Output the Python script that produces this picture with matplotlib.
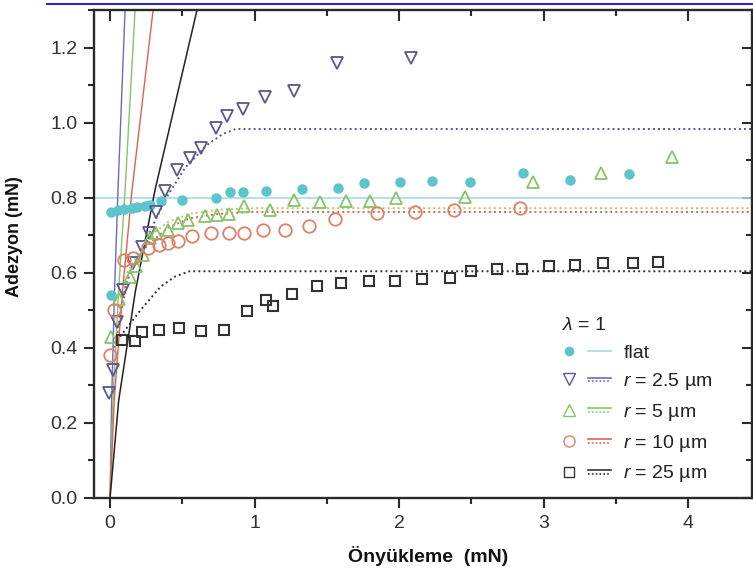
import matplotlib
matplotlib.use('Agg')
import matplotlib.pyplot as plt
from matplotlib.lines import Line2D
from matplotlib.legend_handler import HandlerBase
from matplotlib.ticker import MultipleLocator

plt.rcParams['font.family'] = ['Liberation Sans', 'DejaVu Sans']
plt.rcParams['mathtext.fontset'] = 'custom'
plt.rcParams['mathtext.it'] = 'Liberation Sans:italic'
plt.rcParams['mathtext.rm'] = 'Liberation Sans'

# measured points
flat_x = [0.01, 0.01, 0.055, 0.10, 0.15, 0.19, 0.24, 0.28, 0.35, 0.50, 0.73, 0.83, 0.92, 1.08,
          1.33, 1.58, 1.76, 2.01, 2.23, 2.49, 2.86, 3.18, 3.59]
flat_y = [0.541, 0.763, 0.766, 0.770, 0.773, 0.776, 0.779, 0.780, 0.790, 0.795, 0.800, 0.814,
          0.814, 0.819, 0.823, 0.826, 0.839, 0.841, 0.844, 0.841, 0.866, 0.848, 0.864]

r25_x = [-0.01, 0.02, 0.05, 0.09, 0.16, 0.22, 0.27, 0.32, 0.38, 0.46, 0.55, 0.63, 0.73, 0.81,
         0.92, 1.07, 1.27, 1.57, 2.08]
r25_y = [0.279, 0.341, 0.470, 0.553, 0.626, 0.668, 0.706, 0.763, 0.818, 0.875, 0.906, 0.932,
         0.986, 1.017, 1.035, 1.067, 1.084, 1.160, 1.172]

r5_x = [0.01, 0.06, 0.14, 0.18, 0.23, 0.28, 0.32, 0.40, 0.47, 0.54, 0.66, 0.74, 0.82, 0.93,
        1.11, 1.27, 1.45, 1.63, 1.80, 1.98, 2.46, 2.93, 3.40, 3.89]
r5_y = [0.43, 0.53, 0.59, 0.617, 0.648, 0.692, 0.706, 0.715, 0.733, 0.741, 0.750, 0.755, 0.757,
        0.777, 0.768, 0.795, 0.789, 0.790, 0.790, 0.799, 0.803, 0.841, 0.866, 0.908]

r10_x = [0.0, 0.03, 0.10, 0.16, 0.26, 0.34, 0.40, 0.47, 0.57, 0.70, 0.82, 0.93, 1.06, 1.21,
         1.38, 1.56, 1.85, 2.11, 2.38, 2.84]
r10_y = [0.381, 0.500, 0.635, 0.640, 0.666, 0.675, 0.679, 0.684, 0.699, 0.706, 0.706, 0.706,
         0.715, 0.715, 0.724, 0.743, 0.759, 0.762, 0.766, 0.772]

r250_x = [0.08, 0.17, 0.22, 0.34, 0.48, 0.63, 0.79, 0.95, 1.08, 1.13, 1.26, 1.43, 1.60, 1.79,
          1.97, 2.16, 2.35, 2.50, 2.68, 2.85, 3.04, 3.22, 3.41, 3.62, 3.79]
r250_y = [0.421, 0.417, 0.441, 0.448, 0.452, 0.444, 0.448, 0.497, 0.528, 0.512, 0.543, 0.564,
          0.572, 0.577, 0.577, 0.583, 0.586, 0.606, 0.610, 0.610, 0.617, 0.621, 0.626, 0.626,
          0.630]

# model curves: steep (solid) lines from origin
steep_y = [0, 0.26, 0.55, 0.82, 1.30, 1.40]
steep25_x = [0, 0.011, 0.031, 0.055, 0.104, 0.114]
steep5_x = [0, 0.020, 0.059, 0.104, 0.173, 0.190]
steep10_x = [0, 0.029, 0.086, 0.152, 0.298, 0.330]
steep250_x = [0, 0.060, 0.175, 0.311, 0.602, 0.660]

# model curves: saturating (dotted) lines
dot25_x = [0.03, 0.12, 0.25, 0.39, 0.52, 0.67, 0.78, 0.87, 4.6]
dot25_y = [0.40, 0.58, 0.69, 0.80, 0.88, 0.94, 0.97, 0.983, 0.983]
dot5_x = [0.03, 0.12, 0.25, 0.40, 0.55, 0.75, 1.0, 4.6]
dot5_y = [0.40, 0.60, 0.69, 0.735, 0.757, 0.768, 0.772, 0.772]
dot10_x = [0.03, 0.12, 0.25, 0.40, 0.55, 0.75, 1.0, 4.6]
dot10_y = [0.40, 0.59, 0.67, 0.72, 0.745, 0.757, 0.762, 0.762]
dot250_x = [0.07, 0.21, 0.35, 0.45, 0.55, 4.6]
dot250_y = [0.43, 0.50, 0.563, 0.59, 0.604, 0.604]
flat_level = 0.80

c_flat = '#5cc4cc'
c_flat_line = '#a6dce1'
c_25 = '#58588e'
c_25_line = '#6a6ac8'
c_5 = '#86c46a'
c_10 = '#e0806a'
c_10_line = '#e06050'
c_250 = '#333333'

fig = plt.figure(figsize=(7.53, 5.75), dpi=100)
ax = fig.add_axes([94 / 753, 77 / 575, 658 / 753, 488 / 575])

dots = (0, (1, 1.6))
ax.plot([-0.2, 4.6], [flat_level, flat_level], color=c_flat_line, lw=1.2)
ax.plot(dot25_x, dot25_y, color=c_25, lw=1.4, ls=dots)
ax.plot(dot5_x, dot5_y, color='#b8c860', lw=1.4, ls=dots)
ax.plot(dot10_x, dot10_y, color=c_10_line, lw=1.4, ls=dots)
ax.plot(dot250_x, dot250_y, color=c_250, lw=1.4, ls=dots)

ax.plot(steep25_x, steep_y, color=c_25_line, lw=1.0)
ax.plot(steep5_x, steep_y, color=c_5, lw=1.0)
ax.plot(steep10_x, steep_y, color=c_10_line, lw=1.0)
ax.plot(steep250_x, steep_y, color='#222222', lw=1.1)

ax.plot(flat_x, flat_y, 'o', color=c_flat, ms=6.5, mec=c_flat)
ax.plot(r25_x, r25_y, 'v', mfc='none', mec=c_25, ms=9, mew=1.3)
ax.plot(r5_x, r5_y, '^', mfc='none', mec=c_5, ms=9, mew=1.3)
ax.plot(r10_x, r10_y, 'o', mfc='none', mec=c_10, ms=9, mew=1.3)
ax.plot(r250_x, r250_y, 's', mfc='none', mec=c_250, ms=7.5, mew=1.5)

ax.set_xlim(-0.111, 4.443)
ax.set_ylim(0, 1.30)
ax.xaxis.set_major_locator(MultipleLocator(1))
ax.xaxis.set_minor_locator(MultipleLocator(0.5))
ax.yaxis.set_major_locator(MultipleLocator(0.2))
ax.yaxis.set_minor_locator(MultipleLocator(0.1))
ax.yaxis.set_major_formatter(matplotlib.ticker.FormatStrFormatter('%.1f'))

for s in ax.spines.values():
    s.set_linewidth(1.7)
    s.set_color('#2a2a2a')
ax.tick_params(which='both', direction='out', width=1.5, color='#2a2a2a',
               labelsize=14, labelcolor='#333333')
ax.tick_params(which='major', length=7, pad=5)
ax.tick_params(which='minor', length=4)

top = ax.secondary_xaxis('top')
top.xaxis.set_major_locator(MultipleLocator(1))
top.xaxis.set_minor_locator(MultipleLocator(0.5))
top.tick_params(which='both', direction='in', width=1.5, color='#2a2a2a', labeltop=False)
top.tick_params(which='major', length=8)
top.tick_params(which='minor', length=4)
top.spines['top'].set_visible(False)
right = ax.secondary_yaxis('right')
right.yaxis.set_major_locator(MultipleLocator(0.2))
right.yaxis.set_minor_locator(MultipleLocator(0.1))
right.tick_params(which='both', direction='in', width=1.5, color='#2a2a2a', labelright=False)
right.tick_params(which='major', length=7)
right.tick_params(which='minor', length=4)
right.spines['right'].set_visible(False)

ax.set_xlabel('Önyükleme  (mN)', fontsize=14, fontweight='bold', color='#111111')
ax.set_ylabel('Adezyon (mN)', fontsize=13, fontweight='bold', color='#111111')
ax.xaxis.set_label_coords(0.508, -0.098)
ax.yaxis.set_label_coords(-0.108, 0.535)


class Entry:
    def __init__(self, color, marker, mfc, ms, line_color, dotted):
        self.color = color
        self.marker = marker
        self.mfc = mfc
        self.ms = ms
        self.line_color = line_color
        self.dotted = dotted


class EntryHandler(HandlerBase):
    def create_artists(self, legend, h, xdescent, ydescent, width, height, fontsize, trans):
        yc = height / 2 - ydescent
        m = Line2D([width * 0.12 - xdescent], [yc], marker=h.marker, ms=h.ms, mfc=h.mfc,
                   mec=h.color, mew=1.0, ls='none', transform=trans)
        arts = [m]
        x0, x1 = width * 0.5 - xdescent, width * 0.92 - xdescent
        if h.dotted:
            arts.append(Line2D([x0, x1], [yc + height * 0.14] * 2, color=h.line_color,
                               lw=1.2, transform=trans))
            arts.append(Line2D([x0, x1], [yc - height * 0.14] * 2, color=h.line_color,
                               lw=1.2, ls=(0, (1, 1.3)), transform=trans))
        else:
            arts.append(Line2D([x0, x1], [yc] * 2, color=h.line_color, lw=1.2, transform=trans))
        return arts


handles = [
    Entry(c_flat, 'o', c_flat, 6, c_flat_line, False),
    Entry(c_25, 'v', 'none', 8, c_25_line, True),
    Entry(c_5, '^', 'none', 8, c_5, True),
    Entry(c_10, 'o', 'none', 8, c_10_line, True),
    Entry(c_250, 's', 'none', 7, c_250, True),
]
labels = ['flat', '$r$ = 2.5 µm', '$r$ = 5 µm', '$r$ = 10 µm', '$r$ = 25 µm']
leg = ax.legend(handles, labels, handler_map={Entry: EntryHandler()}, loc='lower left',
                bbox_to_anchor=(0.685, -0.008), frameon=False, fontsize=14,
                title='$\\lambda$ = 1', title_fontsize=14, alignment='left',
                handlelength=2.7, handletextpad=0.45, labelspacing=0.5)
for t in leg.get_texts():
    t.set_color('#222222')
leg.get_title().set_color('#222222')

# blue rule across the top of the picture
fig.add_artist(Line2D([47 / 753, 1.0], [1 - 4 / 575] * 2, color='#1f1fe0', lw=1.4,
                      transform=fig.transFigure))

fig.savefig('out.png', dpi=100)
